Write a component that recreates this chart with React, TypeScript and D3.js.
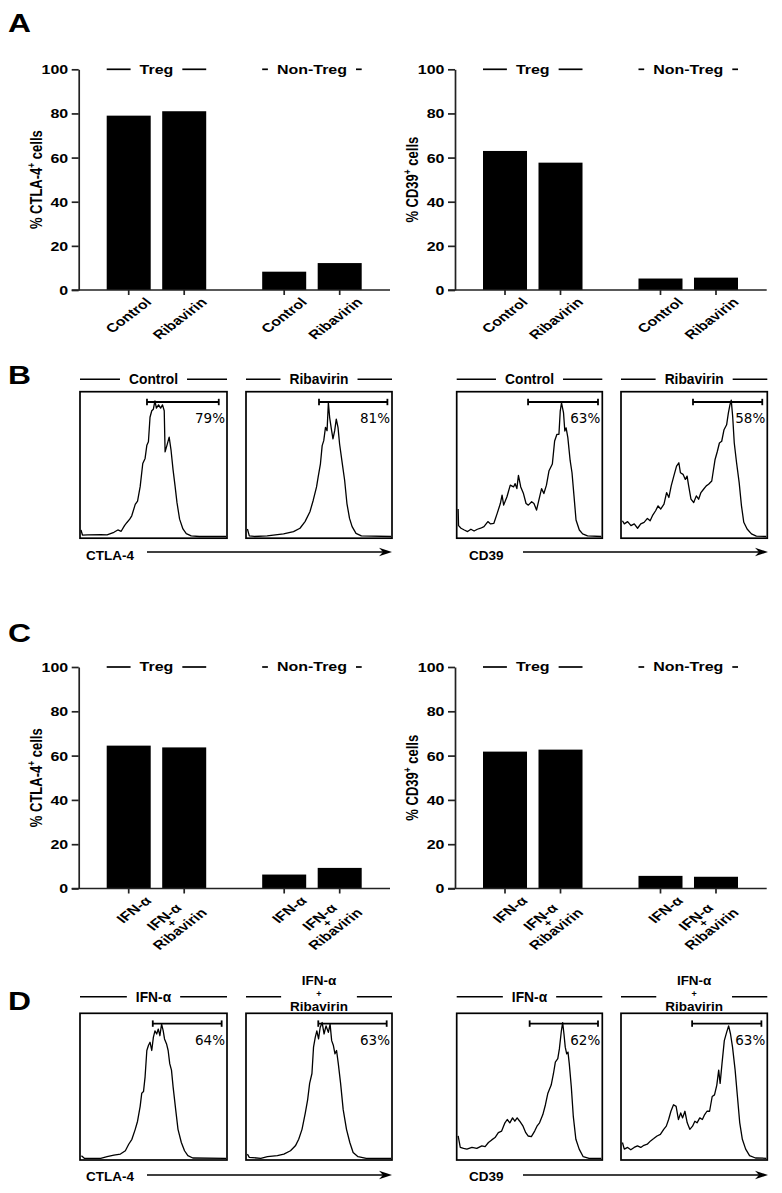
import React, { useEffect, useRef } from 'react';
import * as d3 from 'd3';

const SX = 1.3;
const FONT = "'Liberation Sans', Arial, sans-serif";
const PCT_FONT = "'DejaVu Sans', Verdana, sans-serif";

// ---------- bar chart data ----------
const groups = ['Treg', 'Non-Treg'];
const condsA = [['Control'], ['Ribavirin']];
const condsC = [['IFN-α'], ['IFN-α', '+', 'Ribavirin']];
const yTicks = [0, 20, 40, 60, 80, 100];
// order: Treg cond1, Treg cond2, Non-Treg cond1, Non-Treg cond2
const ctla4A = [79, 81, 8.3, 12.2];
const cd39A = [63, 57.7, 5.2, 5.6];
const ctla4C = [64.5, 63.7, 6.3, 9.3];
const cd39C = [61.8, 62.7, 5.7, 5.3];

// ---------- histogram data: [channel %, count % of box height] ----------
const histCtla4Control: [number, number][] = [[0,5],[1,1.5],[4.5,1.6],[13.6,1.8],[18,1.6],[22.7,3.4],[25.4,5],[27.7,4.1],[30,8],[31.7,10.2],[33.6,12.5],[35,14.8],[37.4,22.7],[39,25],[40.8,35],[42.6,51],[44.2,54.5],[45.4,63.6],[46.5,66],[47.6,83],[48.8,87.5],[49.9,88.6],[51,94.3],[52,89.3],[53.5,91.6],[54.9,89.3],[56.2,91.6],[57.4,87.5],[58,59],[59.6,64.8],[60.8,69.3],[62.1,60.2],[63.5,46.6],[64.9,35.2],[66.2,23.9],[68,12.5],[70.3,5.7],[72.6,2.5],[76,0.9],[81.6,0.5],[100,0.5]];
const histCtla4Riba: [number, number][] = [[0.3,5.7],[1.6,0.9],[5,0.5],[14,0.9],[25.4,2.3],[32.3,3.9],[36.8,6.2],[40.3,10.8],[43.7,17.6],[46,25.6],[48.3,34.8],[49.4,41.6],[51,50.8],[52.2,63.4],[53.3,66.8],[54.5,76],[55.6,73.7],[56.5,93.1],[57.4,82.8],[58.6,74.8],[59.7,68],[60.9,73.7],[62,81.7],[63.2,76],[64.3,64.5],[66.2,50.8],[67.8,39.4],[69.4,23.3],[71.2,13],[73,7.3],[75.7,2.7],[79.4,0.9],[100,0.5]];
const histCd39Control: [number, number][] = [[0.3,19.5],[0.6,8],[2.3,6.2],[4.6,5],[6.9,3.9],[9.2,5.5],[11.4,4.3],[13.7,5.5],[16,6.2],[18.3,7.3],[21,10.8],[22.9,9.2],[25.2,9.6],[27.5,16.5],[29.7,23.3],[30.9,29.1],[32,22.2],[34.3,28],[36.6,36],[38.9,34.8],[40,37.1],[41.2,33.6],[42.3,42.8],[43.9,34.8],[45.8,30.2],[47.6,23.3],[49.2,22.2],[51.5,24.5],[53.1,23.3],[54.9,18.8],[56.8,26.8],[58.4,33.6],[60,30.2],[61.8,36],[63.6,46],[65.9,50.6],[67.5,66.6],[69.1,71.2],[70.5,71.2],[71.4,87.2],[72.3,92.9],[73.7,86],[74.6,73.5],[75.5,75.7],[76.7,68.9],[78.3,53.1],[79.6,44.6],[81,28.4],[82.4,11.9],[84.7,5],[87,2.3],[90.4,0.9],[100,0.5]];
const histCd39Riba: [number, number][] = [[0.3,11.4],[1.6,9.2],[3.9,10.8],[6.2,8],[8.5,9.2],[10.8,6.2],[13,9.2],[15.3,10.3],[17.6,13],[19.5,11.4],[21.1,14.9],[23.3,18.3],[25,21.7],[26.8,19.5],[29.1,22.9],[30.9,30.9],[32.5,27.5],[34.1,35.5],[35.9,42.3],[37.8,49.2],[39.4,51.5],[40.5,44.6],[42.3,43.5],[43.9,40],[45.1,42.3],[46.2,35.5],[47.8,26.3],[49.7,24],[51.5,28.6],[53.1,26.3],[54.7,30.9],[56.5,33.2],[58.4,35.5],[60,36.6],[62.2,38.9],[64.5,53.8],[66.1,59.5],[67.5,65.2],[69.1,66.4],[70.7,74.4],[72.5,77.8],[73.7,85.8],[74.8,91.5],[75.7,94.9],[76.7,83.5],[77.8,65.2],[79.4,51.5],[81.2,37.8],[82.8,21.7],[84.4,10.3],[86.7,5.7],[89.7,2.3],[93.1,0.7],[100,0.5]];
const histCtla4Ifn: [number, number][] = [[0.3,2.3],[2.3,0.5],[13.6,0.5],[18,1.6],[22.7,2.7],[27.2,3.4],[30.6,5.7],[32.9,10.2],[35.1,13.6],[37.4,20.5],[39,26.1],[40.8,36.4],[41.9,45.5],[43.1,46.6],[44.2,56.8],[45.4,75],[46.5,78.4],[47.6,80.7],[48.8,75],[49.9,84],[51,88.6],[52.2,86.4],[53.3,89.8],[54.4,85.2],[55.6,93.2],[56.7,88.6],[57.6,83],[59,79.5],[60.1,75],[61.2,65.9],[62.4,61.4],[63.5,50],[65.3,34.1],[66.9,20.5],[69.2,11.4],[71.4,5.7],[73.7,2.3],[77.1,0.7],[100,0.5]];
const histCtla4IfnRiba: [number, number][] = [[0.3,3.4],[1.6,1.1],[9.6,0.5],[14.2,1.6],[21.1,2.3],[25.6,3.4],[30.2,5.7],[33.6,9.1],[35.9,13.6],[38.2,20.5],[40.5,31.8],[42.1,40.9],[43.5,52.3],[45.1,59.1],[46.2,77.3],[47.4,84.1],[48.5,88.6],[49.7,83],[50.8,90.9],[52.2,94.3],[53.5,86.4],[54.9,92],[56.5,87.5],[57.7,93.2],[58.8,81.8],[60,78.4],[61.1,72.7],[62.2,75],[63.4,65.9],[65,52.3],[66.8,34.1],[69.1,20.5],[71.4,11.4],[73.7,4.5],[77.1,1.6],[82.8,0.5],[100,0.5]];
const histCd39Ifn: [number, number][] = [[0.3,15.9],[1.8,8],[4.1,7.3],[6.4,6.8],[9.9,8],[13.3,7.3],[16.8,9.1],[19.1,8.6],[21.4,11.4],[23.7,13.2],[26,14.8],[28.3,18.2],[30.6,19.3],[32.9,25],[34.5,27.3],[36.3,25],[38.2,28.4],[39.8,26.1],[41.4,28.4],[43.2,26.1],[45.5,22.7],[47.4,18.2],[49,15.9],[51.3,15.5],[53.6,19.3],[55.2,22.7],[57,25],[59.3,30.7],[61.1,37.5],[62.8,45.5],[65.1,51.1],[66.7,59.1],[68,67],[69.7,69.3],[70.8,76.1],[72.2,88.6],[73.1,94.3],[74,86.4],[74.9,77.3],[75.9,72.7],[76.8,73.9],[77.7,65.9],[79.1,50],[80.5,29.5],[82.3,13.6],[84.6,6.8],[87.4,1.6],[91.5,0.5],[100,0.5]];
const histCd39IfnRiba: [number, number][] = [[0.3,11.4],[1.6,6.8],[3.9,8],[6.1,6.4],[8.4,8],[10.7,9.1],[13,8],[15.2,9.5],[17.5,10.2],[19.8,12.5],[22,14.1],[24.3,15.9],[26.6,17],[28.9,20.5],[30.7,22.7],[32.3,27.3],[33.9,33],[35.7,37.5],[37.5,36.4],[39.1,27.3],[40.7,31.8],[42,28.4],[43.6,33],[45.2,25],[47,20.5],[48.9,22.7],[50.5,26.1],[52,25],[53.9,28.4],[55.7,27.3],[57.3,30.7],[58.9,33],[60.7,33],[62.5,43.2],[64.1,44.3],[65.7,51.1],[67,61.4],[68,52.3],[69.3,65.9],[70.9,81.8],[72.5,87.5],[73.9,92],[75.2,86.4],[76.6,77.3],[78.4,61.4],[80,43.2],[81.6,25],[83.4,13.6],[85.7,6.8],[88.4,2.3],[92.5,0.7],[100,0.5]];

// gates: [start, end] in channel %, with percentage label
const gatesB = [[45.5, 95], [50, 97.5], [49, 97.7], [49.2, 97.2]];
const pctB = ['79%', '81%', '63%', '58%'];
const gatesD = [[49.5, 97], [49.5, 97], [50.1, 97.7], [48.6, 96.6]];
const pctD = ['64%', '63%', '62%', '63%'];
const headersB = [['Control'], ['Ribavirin'], ['Control'], ['Ribavirin']];
const headersD = [['IFN-α'], ['IFN-α', '+', 'Ribavirin'], ['IFN-α'], ['IFN-α', '+', 'Ribavirin']];
const markers = ['CTLA-4', 'CD39'];

type Sel = d3.Selection<any, any, any, any>;

function stext(parent: Sel, x: number, y: number, str: string, size: number, anchor: string, sx = SX, rot = 0, family = FONT, weight = 'bold') {
  return parent.append('text')
    .attr('transform', `translate(${x},${y}) scale(${sx},1)` + (rot ? ` rotate(${rot})` : ''))
    .attr('text-anchor', anchor)
    .attr('font-family', family)
    .attr('font-weight', weight)
    .attr('font-size', size)
    .attr('fill', '#000')
    .text(str);
}

function drawBar(svg: Sel, root: DOMRect, c: { x0: number; xEnd: number; yTop: number; yBot: number; values: number[]; conds: string[][]; marker: string; }) {
  const y = d3.scaleLinear().domain([0, 100]).range([c.yBot, c.yTop]);
  const outer = d3.scaleBand<string>().domain(groups).range([c.x0 + 28, c.x0 + 283]).paddingInner(0.36).paddingOuter(0);
  const inner = d3.scaleBand<string>().domain(['0', '1']).range([0, outer.bandwidth()]).paddingInner(0.207).paddingOuter(0);
  const rows = groups.flatMap((g, gi) => c.conds.map((cond, ci) => ({ g, ci, lines: cond, v: c.values[gi * 2 + ci] })));
  const g = svg.append('g');
  g.selectAll('rect.bar').data(rows).join('rect')
    .attr('x', (d: any) => (outer(d.g) as number) + (inner(String(d.ci)) as number))
    .attr('y', (d: any) => y(d.v))
    .attr('width', inner.bandwidth())
    .attr('height', (d: any) => y(0) - y(d.v))
    .attr('fill', '#000');

  const ax = g.append('g').attr('transform', `translate(${c.x0},0)`)
    .call(d3.axisLeft(y).tickValues(yTicks).tickSize(7).tickSizeOuter(0).tickPadding(0) as any);
  ax.attr('font-family', FONT).attr('font-size', 12.3);
  ax.select('.domain').attr('stroke', '#222').attr('stroke-width', 1.7);
  ax.selectAll('.tick line').attr('stroke', '#222').attr('stroke-width', 1.7);
  ax.selectAll('.tick text')
    .attr('x', -10.5 / SX).attr('dy', '0.36em')
    .attr('transform', `scale(${SX},1)`)
    .attr('font-weight', 'bold').attr('fill', '#000');

  g.append('line').attr('x1', c.x0 - 7).attr('x2', c.xEnd).attr('y1', y(0)).attr('y2', y(0))
    .attr('stroke', '#222').attr('stroke-width', 1.7);

  rows.forEach((d) => {
    const cx = (outer(d.g) as number) + (inner(String(d.ci)) as number) + inner.bandwidth() / 2;
    g.append('line').attr('x1', cx).attr('x2', cx).attr('y1', y(0)).attr('y2', y(0) + 5)
      .attr('stroke', '#222').attr('stroke-width', 1.7);
    const tx = cx, ty = y(0) + 25;
    const lab = g.append('g').attr('transform', `translate(${tx},${ty}) scale(${SX},1) rotate(-45)`);
    const t = lab.append('text').attr('text-anchor', 'middle').attr('font-family', FONT).attr('font-weight', 'bold').attr('fill', '#000');
    const offs = d.lines.length === 1 ? [0] : [0, 7.5, 17];
    d.lines.forEach((ln, i) => {
      t.append('tspan').attr('x', 0).attr('y', offs[i]).attr('font-size', ln === '+' ? 10 : 12.3).text(ln);
    });
    const r = (lab.node() as SVGGElement).getBoundingClientRect();
    const dx = (cx + 26) - (r.right - root.left);
    const dy = (y(0) + 5) - (r.top - root.top);
    lab.attr('transform', `translate(${tx + dx},${ty + dy}) scale(${SX},1) rotate(-45)`);
  });

  groups.forEach((gname) => {
    const left = outer(gname) as number;
    const right = left + outer.bandwidth();
    const cx = (left + right) / 2;
    const t = stext(g, cx, c.yTop + 4.4, gname, 12.3, 'middle');
    const w = (t.node() as SVGTextElement).getComputedTextLength() * SX;
    g.append('line').attr('x1', left).attr('x2', cx - w / 2 - 9).attr('y1', c.yTop).attr('y2', c.yTop).attr('stroke', '#000').attr('stroke-width', 1.7);
    g.append('line').attr('x1', cx + w / 2 + 9).attr('x2', right).attr('y1', c.yTop).attr('y2', c.yTop).attr('stroke', '#000').attr('stroke-width', 1.7);
  });

  const yt = g.append('text')
    .attr('transform', `translate(${c.x0 - 43},${(c.yTop + c.yBot) / 2}) scale(${SX},1) rotate(-90)`)
    .attr('text-anchor', 'middle').attr('dy', '0.35em')
    .attr('font-family', FONT).attr('font-weight', 'bold').attr('font-size', 13).attr('fill', '#000');
  yt.append('tspan').text(`% ${c.marker}`);
  yt.append('tspan').attr('dy', -5).attr('font-size', 8.5).text('+');
  yt.append('tspan').attr('dy', 5).text(' cells');
}

function drawHeader(svg: Sel, left: number, right: number, ly: number, lines: string[]) {
  const cx = (left + right) / 2;
  let w = 0;
  if (lines.length === 1) {
    const t = stext(svg, cx, ly + 5, lines[0], 13.8, 'middle', 1);
    w = (t.node() as SVGTextElement).getComputedTextLength();
  } else {
    const ys = [ly - 11.5, ly - 0.2, ly + 14];
    const sizes = [13.5, 9, 13.5];
    const t = svg.append('text').attr('text-anchor', 'middle').attr('font-family', FONT).attr('font-weight', 'bold').attr('fill', '#000');
    lines.forEach((ln, i) => {
      const ts = t.append('tspan').attr('x', cx).attr('y', ys[i]).attr('font-size', sizes[i]).text(ln);
      w = Math.max(w, (ts.node() as SVGTSpanElement).getComputedTextLength());
    });
  }
  svg.append('line').attr('x1', left).attr('x2', cx - w / 2 - 9).attr('y1', ly).attr('y2', ly).attr('stroke', '#000').attr('stroke-width', 1.4);
  svg.append('line').attr('x1', cx + w / 2 + 9).attr('x2', right).attr('y1', ly).attr('y2', ly).attr('stroke', '#000').attr('stroke-width', 1.4);
}

function drawHisto(svg: Sel, box: { x: number; y: number; w: number; h: number }, data: [number, number][], gate: number[], pct: string) {
  const x = d3.scaleLinear().domain([0, 100]).range([box.x + 1, box.x + box.w - 1]);
  const y = d3.scaleLinear().domain([0, 100]).range([box.y + box.h - 1, box.y + 1]);
  svg.append('rect').attr('x', box.x).attr('y', box.y).attr('width', box.w).attr('height', box.h)
    .attr('fill', 'none').attr('stroke', '#000').attr('stroke-width', 1.7);
  const line = d3.line<[number, number]>().x((d) => x(d[0])).y((d) => y(d[1]));
  svg.append('path').attr('d', line(data) as string).attr('fill', 'none').attr('stroke', '#000').attr('stroke-width', 1.3).attr('stroke-linejoin', 'round');
  const gy = box.y + 10.3;
  svg.append('line').attr('x1', x(gate[0])).attr('x2', x(gate[1])).attr('y1', gy).attr('y2', gy).attr('stroke', '#000').attr('stroke-width', 1.8);
  [gate[0], gate[1]].forEach((gv) => {
    svg.append('line').attr('x1', x(gv)).attr('x2', x(gv)).attr('y1', gy - 3.2).attr('y2', gy + 3.2).attr('stroke', '#000').attr('stroke-width', 1.8);
  });
  stext(svg, box.x + box.w - 2, box.y + 31.5, pct, 13.5, 'end', 1, 0, PCT_FONT, 'normal');
}

function drawArrowRow(svg: Sel, tx: number, ty: number, label: string, x1: number, x2: number, ay: number) {
  stext(svg, tx, ty, label, 13.5, 'start', 1);
  svg.append('line').attr('x1', x1).attr('x2', x2 - 6).attr('y1', ay).attr('y2', ay).attr('stroke', '#000').attr('stroke-width', 1.4);
  svg.append('path').attr('d', `M${x2},${ay} L${x2 - 13},${ay - 4.2} L${x2 - 9},${ay} L${x2 - 13},${ay + 4.2} Z`).attr('fill', '#000');
}

const App = () => {
  const ref = useRef<SVGSVGElement>(null);
  useEffect(() => {
    const node = ref.current as SVGSVGElement;
    const svg = d3.select(node);
    svg.selectAll('*').remove();
    svg.append('rect').attr('width', 782).attr('height', 1193).attr('fill', '#fff');
    const root = node.getBoundingClientRect();

    // panel letters
    [['A', 32], ['B', 384], ['C', 642], ['D', 1010]].forEach(([l, yy]) => {
      stext(svg, 8, yy as number, l as string, 26.5, 'start', 1.2);
    });

    // A and C bar charts
    const rowsBar = [
      { yTop: 69.3, yBot: 290, vals: [ctla4A, cd39A], conds: condsA },
      { yTop: 667, yBot: 888.5, vals: [ctla4C, cd39C], conds: condsC },
    ];
    rowsBar.forEach((rw) => {
      drawBar(svg, root, { x0: 78.7, xEnd: 390, yTop: rw.yTop, yBot: rw.yBot, values: rw.vals[0], conds: rw.conds, marker: markers[0] });
      drawBar(svg, root, { x0: 455, xEnd: 766.7, yTop: rw.yTop, yBot: rw.yBot, values: rw.vals[1], conds: rw.conds, marker: markers[1] });
    });

    // B and D histograms
    const boxX = [{ x: 80, w: 147 }, { x: 246, w: 146 }, { x: 456.7, w: 145.6 }, { x: 621, w: 146.3 }];
    const histRows = [
      { y: 391.7, h: 146.5, hy: 379.3, data: [histCtla4Control, histCtla4Riba, histCd39Control, histCd39Riba], gates: gatesB, pcts: pctB, heads: headersB, ty: 560, ay: 552 },
      { y: 1013.3, h: 146.7, hy: 996.7, data: [histCtla4Ifn, histCtla4IfnRiba, histCd39Ifn, histCd39IfnRiba], gates: gatesD, pcts: pctD, heads: headersD, ty: 1181, ay: 1175 },
    ];
    histRows.forEach((hr) => {
      boxX.forEach((bx, i) => {
        drawHeader(svg, bx.x, bx.x + bx.w, hr.hy, hr.heads[i]);
        drawHisto(svg, { x: bx.x, y: hr.y, w: bx.w, h: hr.h }, hr.data[i], hr.gates[i], hr.pcts[i]);
      });
      drawArrowRow(svg, 86, hr.ty, markers[0], 147, 392, hr.ay);
      drawArrowRow(svg, 469, hr.ty, markers[1], 523, 768, hr.ay);
    });
  }, []);
  return <svg ref={ref} width={782} height={1193} style={{ position: 'absolute', left: 0, top: 0, display: 'block' }} />;
};

export default App;
